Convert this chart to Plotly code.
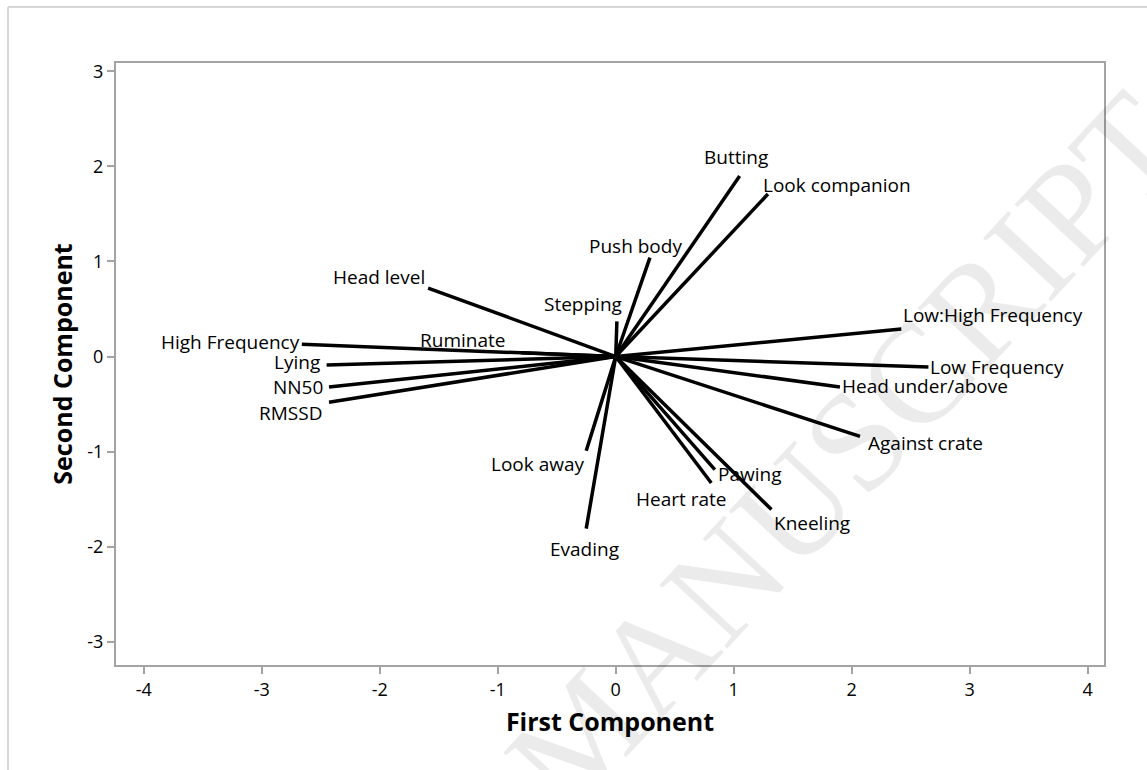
import plotly.graph_objects as go

# ---- data: loading vectors (First Component, Second Component) ----
variables = ["High Frequency", "Lying", "NN50", "RMSSD", "Ruminate", "Head level",
             "Stepping", "Push body", "Butting", "Look companion",
             "Low:High Frequency", "Low Frequency", "Head under/above", "Against crate",
             "Pawing", "Heart rate", "Kneeling", "Look away", "Evading"]
pc1 = [-2.66, -2.45, -2.43, -2.43, -0.80, -1.59,
       0.01, 0.29, 1.05, 1.29,
       2.42, 2.65, 1.90, 2.07,
       0.84, 0.81, 1.32, -0.25, -0.25]
pc2 = [0.13, -0.09, -0.32, -0.48, 0.04, 0.72,
       0.37, 1.04, 1.90, 1.71,
       0.29, -0.11, -0.32, -0.84,
       -1.19, -1.33, -1.61, -0.99, -1.81]

x_ticks = [-4, -3, -2, -1, 0, 1, 2, 3, 4]
y_ticks = [-3, -2, -1, 0, 1, 2, 3]

# ---- label placement styling (anchor, pixel shifts) ----
label_style = {
    "High Frequency": ("right", 0, 2),
    "Lying": ("right", -5, 3),
    "NN50": ("right", -4, 0),
    "RMSSD": ("right", -5, -11),
    "Ruminate": ("right", -14, 13),
    "Head level": ("right", -1, 11),
    "Stepping": ("right", 7, 17),
    "Push body": ("right", 34, 12),
    "Butting": ("center", -4, 19),
    "Look companion": ("left", -7, 9),
    "Low:High Frequency": ("left", 0, 14),
    "Low Frequency": ("left", 0, 0),
    "Head under/above": ("left", 0, 1),
    "Against crate": ("left", 6, -7),
    "Pawing": ("left", 1, -4),
    "Heart rate": ("right", 17, -16),
    "Kneeling": ("left", 1, -13),
    "Look away": ("right", 1, -13),
    "Evading": ("center", -2, -20),
}

FONT = "Open Sans, Noto Sans, sans-serif"

fig = go.Figure()

# vectors from origin
for name, x, y in zip(variables, pc1, pc2):
    fig.add_trace(go.Scatter(
        x=[0, x], y=[0, y], mode="lines",
        line=dict(color="black", width=3.5),
        showlegend=False, hoverinfo="skip", name=name))

annotations = []
for name, x, y in zip(variables, pc1, pc2):
    anchor, dx, dy = label_style[name]
    annotations.append(dict(
        x=x, y=y, xref="x", yref="y", text=name, showarrow=False,
        xanchor=anchor, yanchor="middle", xshift=dx, yshift=dy,
        font=dict(family=FONT, size=19, color="black")))

W, H = 1147, 770
L, R, T, B = 116, 43, 63, 105
pw, ph = W - L - R, H - T - B

def px_x(p):
    return (p - L) / pw

def px_y(p):
    return (H - B - p) / ph

# faint watermark
annotations.append(dict(
    x=px_x(845), y=px_y(452), xref="paper", yref="paper", text="MANUSCRIPT",
    showarrow=False, textangle=-47, xanchor="center", yanchor="middle",
    font=dict(family="Liberation Serif, DejaVu Serif, serif", size=142,
              color="rgba(0,0,0,0.08)")))

shapes = [
    dict(type="line", xref="paper", yref="paper",
         x0=px_x(8), x1=px_x(W + 5), y0=px_y(7), y1=px_y(7),
         line=dict(color="#d6d6d6", width=2)),
    dict(type="line", xref="paper", yref="paper",
         x0=px_x(8), x1=px_x(8), y0=px_y(7), y1=px_y(H + 5),
         line=dict(color="#d6d6d6", width=2)),
]

axis_common = dict(
    showgrid=False, zeroline=False, showline=True, mirror=True,
    linecolor="#a3a3a3", linewidth=2, ticks="outside", ticklen=7,
    tickcolor="#a3a3a3", tickwidth=2,
    tickfont=dict(family=FONT, size=18, color="black"),
)

fig.update_layout(
    width=W, height=H,
    margin=dict(l=L, r=R, t=T, b=B),
    paper_bgcolor="white", plot_bgcolor="white",
    xaxis=dict(range=[-4.235, 4.138], tickvals=x_ticks,
               ticktext=[str(v) for v in x_ticks],
               title=dict(text="<b>First Component</b>", standoff=14,
                          font=dict(family=FONT, size=25, color="black")),
               **axis_common),
    yaxis=dict(range=[-3.245, 3.088], tickvals=y_ticks,
               ticktext=[str(v) for v in y_ticks],
               title=dict(text="<b>Second Component</b>", standoff=8,
                          font=dict(family=FONT, size=25, color="black")),
               **axis_common),
    annotations=annotations,
    shapes=shapes,
)

fig.write_html("out.html",
               config={"displayModeBar": False},
               post_script="document.body.style.margin='0';document.body.style.overflow='hidden';")
